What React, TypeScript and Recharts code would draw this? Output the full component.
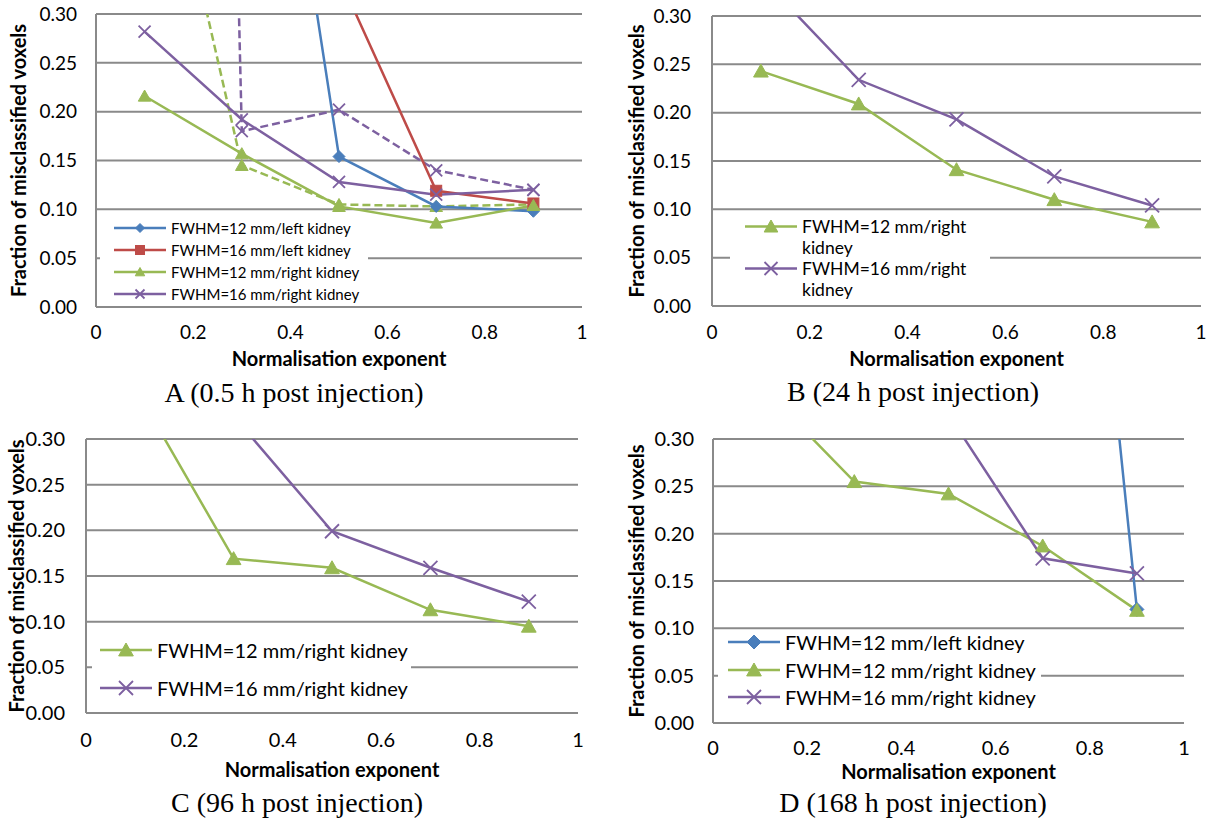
import { CartesianGrid, Legend, Line, LineChart, XAxis, YAxis } from "recharts";

const exponents = [0.1, 0.3, 0.5, 0.7, 0.9];
const xTicks = [0, 0.2, 0.4, 0.6, 0.8, 1];
const yTicks = [0, 0.05, 0.1, 0.15, 0.2, 0.25, 0.3];

// A: 0.5 h post injection. Values above 0.30 are off the chart, estimated from the line slopes.
const aLeft12 = [0.95, 0.8, 0.154, 0.103, 0.098];
const aLeft16 = [0.62, 0.48, 0.338, 0.119, 0.106];
const aRight12 = [0.216, 0.157, 0.103, 0.086, 0.104];
const aRight16 = [0.282, 0.192, 0.128, 0.115, 0.12];
const aRight12Dashed = [0.58, 0.145, 0.105, 0.103, 0.105];
const aRight16Dashed = [4.3, 0.18, 0.202, 0.14, 0.12];

// B: 24 h
const bRight12 = [0.243, 0.209, 0.141, 0.11, 0.087];
const bRight16 = [0.34, 0.234, 0.193, 0.134, 0.104];

// C: 96 h
const cRight12 = [0.356, 0.169, 0.159, 0.113, 0.095];
const cRight16 = [0.45, 0.325, 0.199, 0.159, 0.122];

// D: 168 h
const dLeft12 = [1.5, 1.35, 1.2, 1.09, 0.12];
const dRight12 = [0.357, 0.255, 0.242, 0.187, 0.119];
const dRight16 = [0.5, 0.42, 0.326, 0.174, 0.158];

const nameLeft12 = "FWHM=12 mm/left kidney";
const nameLeft16 = "FWHM=16 mm/left kidney";
const nameRight12 = "FWHM=12 mm/right kidney";
const nameRight16 = "FWHM=16 mm/right kidney";

const xTitle = "Normalisation exponent";
const yTitle = "Fraction of misclassified voxels";

const FONT = "Lato, 'Open Sans', sans-serif";
const GRID = "#8a8a8a";
const BLUE = "#4a7ebb";
const RED = "#be4b48";
const GREEN = "#98b954";
const PURPLE = "#7d60a0";

type Shape = "diamond" | "square" | "triangle" | "cross";

type Series = {
  key: string;
  name: string;
  values: number[];
  color: string;
  shape: Shape;
  dashed?: boolean;
  hidden?: boolean;
};

type LegendBox = {
  left: number;
  top: number;
  width: number;
  row: number;
  gap: number;
  font: number;
  pad: number;
  r: number;
  textWidth: number;
};

type Panel = {
  caption: string;
  captionX: number;
  captionY: number;
  left: number;
  top: number;
  width: number;
  height: number;
  margin: { top: number; right: number; bottom: number; left: number };
  yAxisWidth: number;
  tickFont: number;
  yTickGap: number;
  xTickGap: number;
  yTitleX: number;
  xTitleGap: number;
  markerR: number;
  legend: LegendBox;
  series: Series[];
};

const panels: Panel[] = [
  {
    caption: "A (0.5 h post injection)",
    captionX: 294,
    captionY: 402,
    left: 0,
    top: 0,
    width: 600,
    height: 380,
    margin: { top: 14, right: 18, bottom: 43, left: 0 },
    yAxisWidth: 96,
    tickFont: 19,
    yTickGap: 19,
    xTickGap: 19,
    yTitleX: 19,
    xTitleGap: 15,
    markerR: 6,
    legend: { left: 100, top: 217, width: 268, row: 22, gap: 0, font: 15, pad: 14, r: 4.5, textWidth: 200 },
    series: [
      { key: "r12d", name: nameRight12, values: aRight12Dashed, color: GREEN, shape: "triangle", dashed: true, hidden: true },
      { key: "r16d", name: nameRight16, values: aRight16Dashed, color: PURPLE, shape: "cross", dashed: true, hidden: true },
      { key: "l12", name: nameLeft12, values: aLeft12, color: BLUE, shape: "diamond" },
      { key: "l16", name: nameLeft16, values: aLeft16, color: RED, shape: "square" },
      { key: "r12", name: nameRight12, values: aRight12, color: GREEN, shape: "triangle" },
      { key: "r16", name: nameRight16, values: aRight16, color: PURPLE, shape: "cross" },
    ],
  },
  {
    caption: "B (24 h post injection)",
    captionX: 913,
    captionY: 401,
    left: 600,
    top: 0,
    width: 613,
    height: 380,
    margin: { top: 16, right: 12, bottom: 44, left: 0 },
    yAxisWidth: 112,
    tickFont: 19,
    yTickGap: 21,
    xTickGap: 20,
    yTitleX: 37,
    xTitleGap: 16,
    markerR: 7,
    legend: { left: 130, top: 215.5, width: 260, row: 21, gap: 0, font: 17.5, pad: 15, r: 6.5, textWidth: 185 },
    series: [
      { key: "r12", name: nameRight12, values: bRight12, color: GREEN, shape: "triangle" },
      { key: "r16", name: nameRight16, values: bRight16, color: PURPLE, shape: "cross" },
    ],
  },
  {
    caption: "C (96 h post injection)",
    captionX: 297,
    captionY: 812,
    left: 0,
    top: 410,
    width: 600,
    height: 380,
    margin: { top: 29, right: 22, bottom: 47, left: 0 },
    yAxisWidth: 86,
    tickFont: 20,
    yTickGap: 21,
    xTickGap: 20,
    yTitleX: 17,
    xTitleGap: 20,
    markerR: 7,
    legend: { left: 92, top: 221, width: 319, row: 38, gap: 0, font: 20, pad: 8, r: 7, textWidth: 260 },
    series: [
      { key: "r12", name: nameRight12, values: cRight12, color: GREEN, shape: "triangle" },
      { key: "r16", name: nameRight16, values: cRight16, color: PURPLE, shape: "cross" },
    ],
  },
  {
    caption: "D (168 h post injection)",
    captionX: 913,
    captionY: 812,
    left: 600,
    top: 410,
    width: 613,
    height: 380,
    margin: { top: 29, right: 29, bottom: 37, left: 0 },
    yAxisWidth: 113,
    tickFont: 20,
    yTickGap: 19,
    xTickGap: 18,
    yTitleX: 37,
    xTitleGap: 12,
    markerR: 7,
    legend: { left: 118, top: 220, width: 323, row: 24, gap: 3.5, font: 20, pad: 10, r: 7, textWidth: 260 },
    series: [
      { key: "l12", name: nameLeft12, values: dLeft12, color: BLUE, shape: "diamond" },
      { key: "r12", name: nameRight12, values: dRight12, color: GREEN, shape: "triangle" },
      { key: "r16", name: nameRight16, values: dRight16, color: PURPLE, shape: "cross" },
    ],
  },
];

function Marker({ shape, cx, cy, r, color }: { shape: Shape; cx: number; cy: number; r: number; color: string }) {
  if (shape === "diamond") {
    return <path d={`M${cx} ${cy - r}L${cx + r} ${cy}L${cx} ${cy + r}L${cx - r} ${cy}Z`} fill={color} stroke={color} />;
  }
  if (shape === "square") {
    return <rect x={cx - r} y={cy - r} width={2 * r} height={2 * r} fill={color} stroke={color} />;
  }
  if (shape === "triangle") {
    const h = r * 0.85;
    return <path d={`M${cx} ${cy - r}L${cx + r * 1.05} ${cy + h}L${cx - r * 1.05} ${cy + h}Z`} fill={color} stroke={color} />;
  }
  return (
    <path
      d={`M${cx - r} ${cy - r}L${cx + r} ${cy + r}M${cx + r} ${cy - r}L${cx - r} ${cy + r}`}
      stroke={color}
      strokeWidth={1.8}
      fill="none"
    />
  );
}

// legend keeps the series order (recharts would sort it by name)
function legendContent(panel: Panel) {
  const lg = panel.legend;
  return (props: any) => {
    const shown = new Set((props.payload ?? []).map((e: any) => e.dataKey));
    const entries = panel.series.filter((s) => !s.hidden && shown.has(s.key));
    return (
      <div style={{ background: "#fff", paddingLeft: lg.pad, fontFamily: FONT, color: "#000" }}>
        {entries.map((s, i) => (
          <div
            key={s.key}
            style={{ display: "flex", alignItems: "flex-start", marginBottom: i < entries.length - 1 ? lg.gap : 0 }}
          >
            <svg width={52} height={lg.row} style={{ flex: "none", display: "block" }}>
              <line x1={0} x2={52} y1={lg.row / 2} y2={lg.row / 2} stroke={s.color} strokeWidth={2.5} />
              <Marker shape={s.shape} cx={26} cy={lg.row / 2} r={lg.r} color={s.color} />
            </svg>
            <span style={{ marginLeft: 5, width: lg.textWidth, fontSize: lg.font, lineHeight: `${lg.row}px` }}>
              {s.name}
            </span>
          </div>
        ))}
      </div>
    );
  };
}

function PanelChart({ panel }: { panel: Panel }) {
  const data = exponents.map((x, i) => {
    const row: Record<string, number> = { x };
    panel.series.forEach((s) => {
      row[s.key] = s.values[i];
    });
    return row;
  });

  return (
    <div style={{ position: "absolute", left: panel.left, top: panel.top }}>
      <LineChart width={panel.width} height={panel.height} data={data} margin={panel.margin}>
        <CartesianGrid vertical={false} stroke={GRID} strokeWidth={2} />
        <XAxis
          type="number"
          dataKey="x"
          domain={[0, 1]}
          ticks={xTicks}
          interval={0}
          height={30}
          tickLine={false}
          tickSize={0}
          tickMargin={panel.xTickGap}
          axisLine={{ stroke: GRID, strokeWidth: 2 }}
          tick={{ fill: "#000", fontSize: panel.tickFont, fontFamily: FONT }}
          label={{
            value: xTitle,
            position: "bottom",
            offset: panel.xTitleGap,
            style: { fill: "#000", fontSize: 20, fontWeight: 700, fontFamily: FONT },
          }}
        />
        <YAxis
          type="number"
          domain={[0, 0.3]}
          allowDataOverflow
          ticks={yTicks}
          interval={0}
          width={panel.yAxisWidth}
          tickLine={false}
          tickSize={0}
          tickMargin={panel.yTickGap}
          tickFormatter={(v: number) => v.toFixed(2)}
          axisLine={{ stroke: GRID, strokeWidth: 2 }}
          tick={{ fill: "#000", fontSize: panel.tickFont, fontFamily: FONT }}
          label={{
            value: yTitle,
            angle: -90,
            position: "insideLeft",
            offset: panel.yTitleX,
            style: { textAnchor: "middle", fill: "#000", fontSize: 20, fontWeight: 700, fontFamily: FONT },
          }}
        />
        <Legend
          layout="vertical"
          align="center"
          verticalAlign="middle"
          content={legendContent(panel)}
          wrapperStyle={{ left: panel.legend.left, top: panel.legend.top, width: panel.legend.width }}
        />
        {panel.series.map((s) => (
          <Line
            key={s.key}
            type="linear"
            dataKey={s.key}
            name={s.name}
            stroke={s.color}
            strokeWidth={2.5}
            strokeDasharray={s.dashed ? "8 4" : undefined}
            legendType={s.hidden ? "none" : "line"}
            isAnimationActive={false}
            activeDot={false}
            dot={(p: any) =>
              p.cx == null || p.cy == null ? (
                <g key={`${s.key}-${p.index}`} />
              ) : (
                <Marker
                  key={`${s.key}-${p.index}`}
                  shape={s.shape}
                  cx={p.cx}
                  cy={p.cy}
                  r={s.shape === "square" ? panel.markerR - 0.5 : panel.markerR}
                  color={s.color}
                />
              )
            }
          />
        ))}
      </LineChart>
    </div>
  );
}

export default function App() {
  return (
    <div
      style={{
        position: "absolute",
        left: 0,
        top: 0,
        width: 1213,
        height: 822,
        background: "#fff",
        fontFamily: FONT,
      }}
    >
      {panels.map((p) => (
        <PanelChart key={p.caption} panel={p} />
      ))}
      <svg width={1213} height={822} style={{ position: "absolute", left: 0, top: 0, pointerEvents: "none" }}>
        {panels.map((p) => (
          <text
            key={p.caption}
            x={p.captionX}
            y={p.captionY}
            textAnchor="middle"
            fontFamily="'Liberation Serif', serif"
            fontSize={28}
            fill="#000"
          >
            {p.caption}
          </text>
        ))}
      </svg>
    </div>
  );
}
